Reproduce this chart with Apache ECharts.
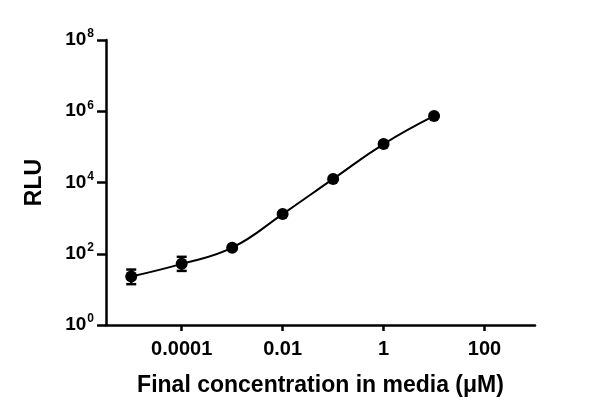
<!DOCTYPE html>
<html>
<head>
<meta charset="utf-8">
<script src="https://cdn.jsdelivr.net/npm/echarts@6/dist/echarts.min.js"></script>
<style>
  html, body { margin: 0; padding: 0; background: #fff; }
  #chart { width: 600px; height: 416px; }
</style>
</head>
<body>
<div id="chart"></div>
<script>
// concentrations (uM) and mean RLU
const conc = [1e-5, 1e-4, 1e-3, 1e-2, 1e-1, 1, 10];
const rlu = [23, 52, 148, 1300, 12600, 120000, 740000];
const errLow = [14, 33, 130, 1200, 11800, 112000, 700000];
const errHigh = [36, 82, 165, 1400, 13400, 128000, 780000];
const xTicks = [1e-4, 1e-2, 1, 100];
const yTicks = [1, 1e2, 1e4, 1e6, 1e8];

const points = conc.map((c, i) => [c, rlu[i]]);
const bars = conc.map((c, i) => [c, errLow[i], errHigh[i]]);

function sup(v) {
  const e = Math.round(Math.log10(v));
  return "{b|10}{s|" + e + "}";
}

function fmtX(v) {
  const e = Math.round(Math.log10(v));
  if (e >= 0) return String(Math.pow(10, e));
  return "0." + "0".repeat(-e - 1) + "1";
}

const chart = echarts.init(document.getElementById("chart"));
chart.setOption({
  animation: false,
  grid: { left: 106, right: 65, top: 40, bottom: 91 },
  xAxis: {
    type: "log",
    logBase: 10,
    min: Math.pow(10, -5.5),
    max: 1000,
    name: "Final concentration in media (\u03bcM)",
    nameLocation: "middle",
    nameGap: 49,
    nameTextStyle: { fontFamily: "Liberation Sans", fontWeight: "bold", fontSize: 23, color: "#000" },
    axisLine: { lineStyle: { color: "#000", width: 2.5 } },
    axisTick: { customValues: xTicks, length: 6, lineStyle: { color: "#000", width: 2.5 } },
    axisLabel: {
      customValues: xTicks,
      formatter: fmtX,
      margin: 14,
      fontFamily: "Liberation Sans", fontWeight: "bold", fontSize: 20, color: "#000"
    },
    splitLine: { show: false },
    minorTick: { show: false }
  },
  yAxis: {
    type: "log",
    logBase: 10,
    min: 1,
    max: 1e8,
    name: "RLU",
    nameLocation: "middle",
    nameGap: 60,
    nameTextStyle: { fontFamily: "Liberation Sans", fontWeight: "bold", fontSize: 23, color: "#000" },
    axisLine: { lineStyle: { color: "#000", width: 2.5 } },
    axisTick: { customValues: yTicks, length: 9, lineStyle: { color: "#000", width: 2.5 } },
    axisLabel: {
      customValues: yTicks,
      formatter: sup,
      margin: 12,
      rich: {
        b: { fontFamily: "Liberation Sans", fontWeight: "bold", fontSize: 19, color: "#000" },
        s: { fontFamily: "Liberation Sans", fontWeight: "bold", fontSize: 12, color: "#000", padding: [0, 0, 12, 1] }
      }
    },
    splitLine: { show: false }
  },
  series: [
    {
      type: "line",
      data: points,
      smooth: 0.45,
      symbol: "circle",
      symbolSize: 12,
      itemStyle: { color: "#000" },
      lineStyle: { color: "#000", width: 2 },
      z: 3
    },
    {
      type: "custom",
      data: bars,
      renderItem: function (params, api) {
        const x = api.coord([api.value(0), api.value(1)])[0];
        const lo = api.coord([api.value(0), api.value(1)])[1];
        const hi = api.coord([api.value(0), api.value(2)])[1];
        const w = 5;
        const st = { stroke: "#000", lineWidth: 2.5 };
        return {
          type: "group",
          children: [
            { type: "line", shape: { x1: x, y1: lo, x2: x, y2: hi }, style: st },
            { type: "line", shape: { x1: x - w, y1: lo, x2: x + w, y2: lo }, style: st },
            { type: "line", shape: { x1: x - w, y1: hi, x2: x + w, y2: hi }, style: st }
          ]
        };
      },
      z: 2
    }
  ]
});
</script>
</body>
</html>
